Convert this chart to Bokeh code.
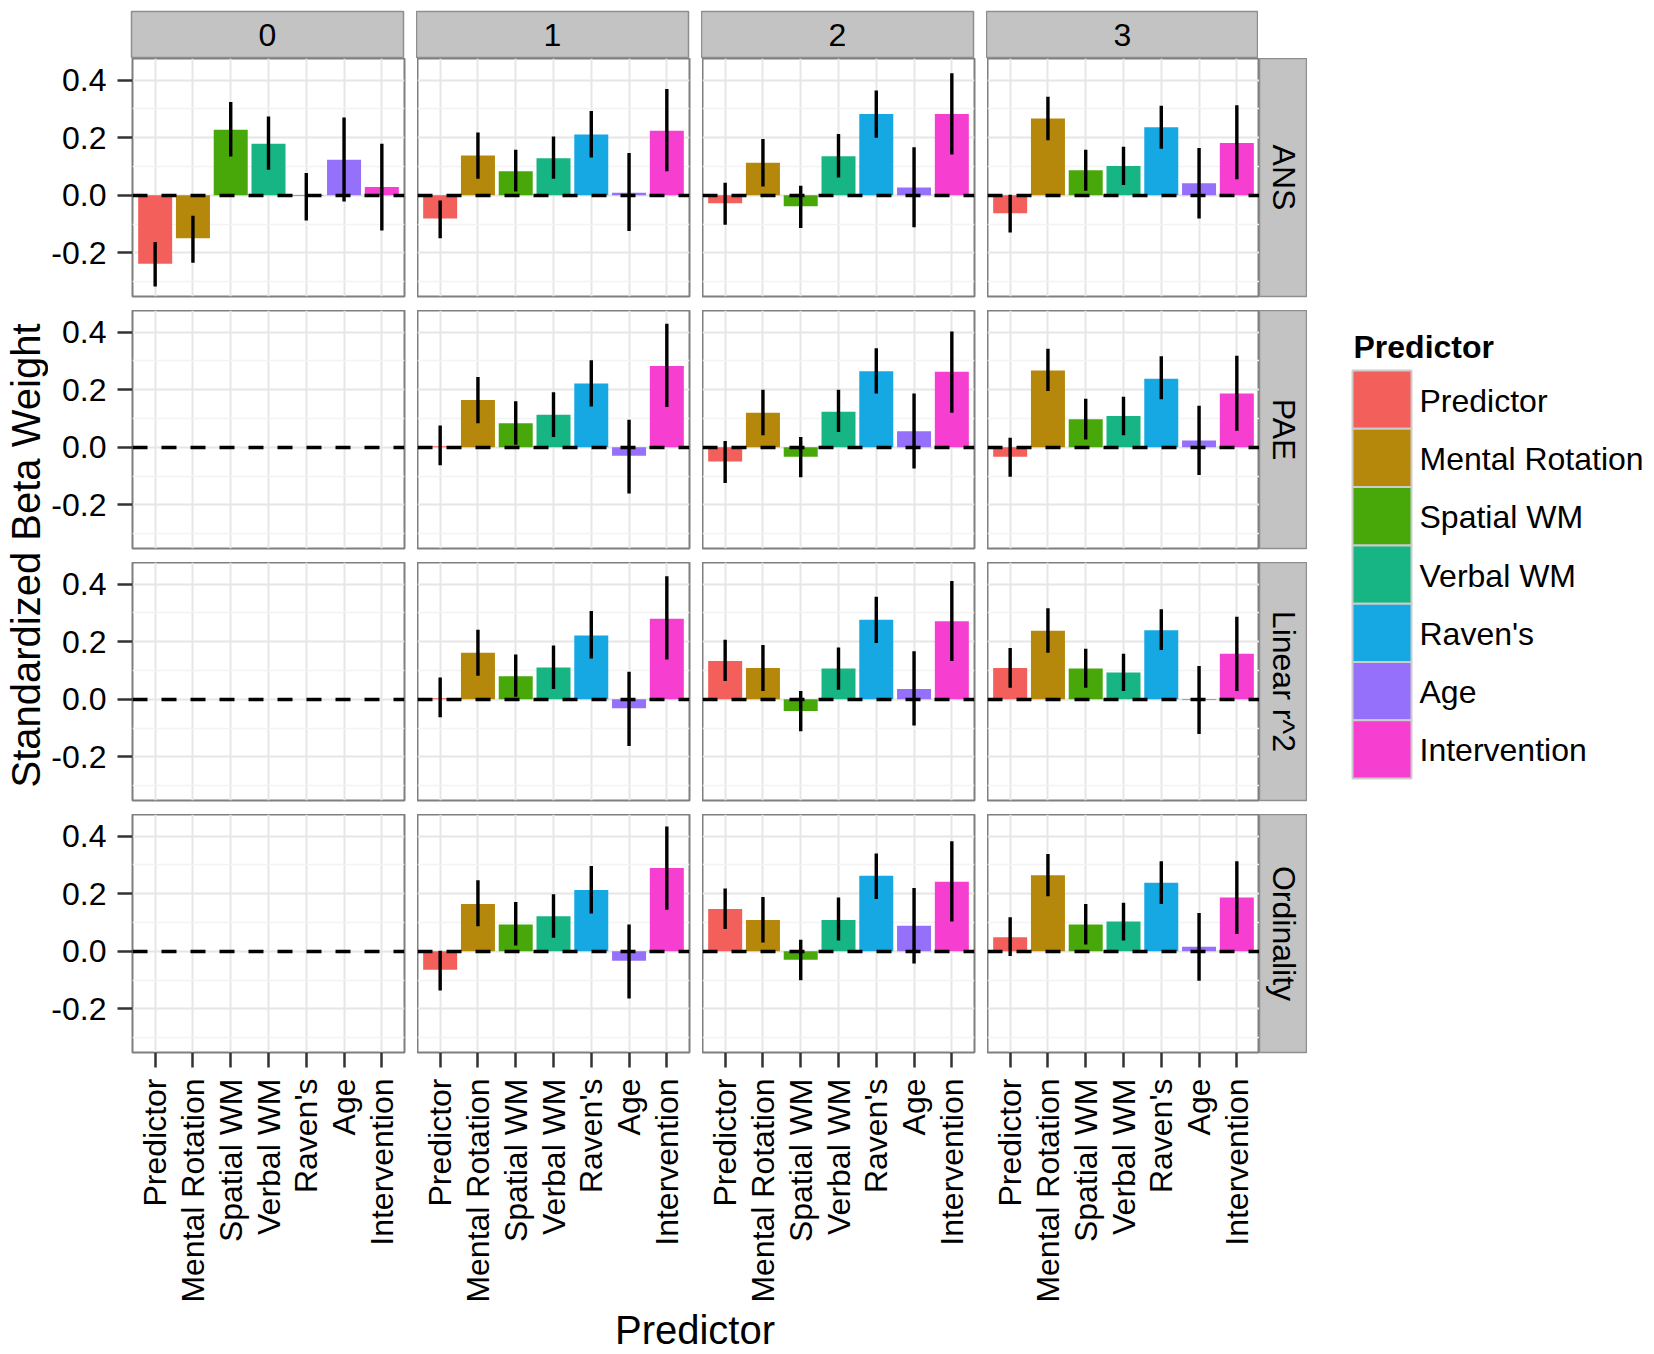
import math
from bokeh.plotting import figure
from bokeh.models import (FactorRange, Range1d, FixedTicker, PrintfTickFormatter,
                          Label, ColumnDataSource)
from bokeh.layouts import row, column
from bokeh.embed import file_html
from bokeh.resources import INLINE

FONT = "Liberation Sans"

# ---------------- data ----------------
predictors = ["Predictor", "Mental Rotation", "Spatial WM", "Verbal WM",
              "Raven's", "Age", "Intervention"]
colors = ["#F35F5A", "#B5870A", "#48A80A", "#17B584", "#16A8E2", "#9570FA", "#F63FD0"]
facet_cols = ["0", "1", "2", "3"]
facet_rows = ["ANS", "PAE", "Linear r^2", "Ordinality"]

# each list: one entry per facet column (0..3), each entry one value per predictor
ans_est = [[-0.237, -0.149, 0.228, 0.179, -0.002, 0.124, 0.029],
           [-0.080, 0.138, 0.084, 0.129, 0.211, 0.009, 0.224],
           [-0.027, 0.113, -0.038, 0.136, 0.282, 0.027, 0.282],
           [-0.062, 0.267, 0.087, 0.102, 0.236, 0.042, 0.182]]
ans_lo = [[-0.316, -0.234, 0.135, 0.089, -0.087, -0.021, -0.122],
          [-0.149, 0.058, 0.013, 0.058, 0.131, -0.124, 0.084],
          [-0.102, 0.031, -0.113, 0.062, 0.200, -0.111, 0.142],
          [-0.129, 0.191, 0.016, 0.036, 0.162, -0.080, 0.056]]
ans_hi = [[-0.162, -0.071, 0.324, 0.274, 0.078, 0.270, 0.179],
          [-0.018, 0.218, 0.158, 0.204, 0.293, 0.147, 0.369],
          [0.044, 0.196, 0.033, 0.213, 0.364, 0.167, 0.424],
          [0.002, 0.342, 0.158, 0.169, 0.311, 0.164, 0.313]]

pae_est = [None,
           [0.004, 0.164, 0.084, 0.113, 0.222, -0.029, 0.282],
           [-0.049, 0.120, -0.033, 0.124, 0.264, 0.056, 0.262],
           [-0.033, 0.267, 0.098, 0.109, 0.238, 0.024, 0.187]]
pae_lo = [None,
          [-0.062, 0.084, 0.009, 0.036, 0.142, -0.160, 0.140],
          [-0.124, 0.042, -0.104, 0.053, 0.187, -0.073, 0.120],
          [-0.102, 0.196, 0.027, 0.042, 0.167, -0.096, 0.058]]
pae_hi = [None,
          [0.076, 0.244, 0.160, 0.191, 0.302, 0.096, 0.429],
          [0.022, 0.200, 0.036, 0.200, 0.344, 0.187, 0.402],
          [0.033, 0.342, 0.169, 0.176, 0.316, 0.144, 0.318]]

lin_est = [None,
           [0.004, 0.162, 0.080, 0.111, 0.222, -0.031, 0.280],
           [0.133, 0.109, -0.040, 0.107, 0.276, 0.036, 0.271],
           [0.109, 0.238, 0.107, 0.093, 0.240, -0.002, 0.158]]
lin_lo = [None,
          [-0.062, 0.082, 0.009, 0.036, 0.142, -0.162, 0.138],
          [0.064, 0.029, -0.111, 0.033, 0.196, -0.091, 0.133],
          [0.040, 0.162, 0.040, 0.029, 0.171, -0.120, 0.029]]
lin_hi = [None,
          [0.076, 0.242, 0.156, 0.187, 0.307, 0.096, 0.427],
          [0.207, 0.189, 0.029, 0.180, 0.356, 0.167, 0.411],
          [0.178, 0.316, 0.176, 0.158, 0.313, 0.116, 0.287]]

ord_est = [None,
           [-0.064, 0.164, 0.093, 0.122, 0.213, -0.033, 0.289],
           [0.147, 0.109, -0.029, 0.109, 0.262, 0.089, 0.242],
           [0.049, 0.264, 0.093, 0.104, 0.238, 0.016, 0.187]]
ord_lo = [None,
          [-0.136, 0.087, 0.020, 0.047, 0.131, -0.164, 0.144],
          [0.078, 0.031, -0.100, 0.038, 0.182, -0.042, 0.104],
          [-0.016, 0.191, 0.024, 0.038, 0.164, -0.102, 0.060]]
ord_hi = [None,
          [0.002, 0.247, 0.171, 0.198, 0.296, 0.093, 0.433],
          [0.218, 0.189, 0.040, 0.187, 0.340, 0.220, 0.382],
          [0.118, 0.338, 0.164, 0.169, 0.313, 0.133, 0.313]]

y_ticks = [-0.2, 0.0, 0.2, 0.4]
y_minor = [-0.3, -0.1, 0.1, 0.3]

EST = [ans_est, pae_est, lin_est, ord_est]
LO = [ans_lo, pae_lo, lin_lo, ord_lo]
HI = [ans_hi, pae_hi, lin_hi, ord_hi]

# ---------------- layout constants ----------------
Y0, Y1 = -0.351, 0.475
FW, FH = 272, 238
GAP_X, GAP_Y = 13, 14
LEFT = 83
STRIP_TOP = 11
STRIP = 47
STRIP_R = 48
BOTTOM = 252
YT_W = 48
TOTAL_H = 1350
MAIN_W = LEFT + 4 * FW + 3 * GAP_X + STRIP_R
XT_H = TOTAL_H - (STRIP_TOP + STRIP) - 4 * FH - 3 * GAP_Y - BOTTOM

STRIP_FILL = "#C3C3C3"
STRIP_LINE = "#8E8E8E"
BORDER = "#7F7F7F"
GRID_MAJ = "#E6E6E6"
GRID_MIN = "#F3F3F3"
TICK = "#333333"
SMALL = "32px"
BIG = "40px"


def base_fig(fw, fh, ml=0, mr=0, mt=0, mb=0, **kw):
    p = figure(frame_width=fw, frame_height=fh, min_border_left=ml, min_border_right=mr,
               min_border_top=mt, min_border_bottom=mb, toolbar_location=None,
               output_backend="svg", tools="", **kw)
    p.background_fill_color = "white"
    p.border_fill_color = "white"
    return p


def blank_fig(fw, fh, xr, yr, ml=0, mr=0, mt=0, mb=0):
    p = base_fig(fw, fh, ml=ml, mr=mr, mt=mt, mb=mb,
                 x_range=Range1d(*xr), y_range=Range1d(*yr),
                 x_axis_location=None, y_axis_location=None)
    p.grid.visible = False
    p.outline_line_color = None
    return p


def panel(r, c):
    p = base_fig(FW, FH,
                 ml=LEFT if c == 0 else 0,
                 mr=GAP_X if c < 3 else 0,
                 mt=0,
                 mb=GAP_Y if r < 3 else BOTTOM,
                 x_range=FactorRange(factors=predictors, range_padding=0.2 / 7),
                 y_range=Range1d(Y0, Y1),
                 x_axis_location="below" if r == 3 else None,
                 y_axis_location="left" if c == 0 else None)
    p.outline_line_color = BORDER
    p.outline_line_width = 2
    p.xgrid.grid_line_color = GRID_MAJ
    p.xgrid.grid_line_width = 2
    p.ygrid.ticker = FixedTicker(ticks=y_ticks, minor_ticks=y_minor)
    p.ygrid.grid_line_color = GRID_MAJ
    p.ygrid.grid_line_width = 2
    p.ygrid.minor_grid_line_color = GRID_MIN
    p.ygrid.minor_grid_line_width = 1.5

    if c == 0:
        ax = p.yaxis[0]
        ax.ticker = FixedTicker(ticks=y_ticks)
        ax.formatter = PrintfTickFormatter(format="%.1f")
    if r == 3:
        ax = p.xaxis[0]
        ax.major_label_orientation = math.pi / 2
    for ax in list(p.xaxis) + list(p.yaxis):
        ax.axis_line_color = None
        ax.minor_tick_line_color = None
        ax.major_tick_in = 0
        ax.major_tick_out = 15
        ax.major_tick_line_color = TICK
        ax.major_tick_line_width = 2.5
        ax.major_label_standoff = 11
        ax.major_label_text_font = FONT
        ax.major_label_text_font_size = SMALL
        ax.major_label_text_color = "black"

    est = EST[r][c]
    if est is not None:
        src = ColumnDataSource(dict(x=predictors, top=est, lo=LO[r][c], hi=HI[r][c],
                                    color=colors))
        p.vbar(x="x", top="top", bottom=0, width=0.9, fill_color="color",
               line_color=None, source=src)
        p.hspan(y=[0], line_color="black", line_width=3.5, line_dash="15 14")
        p.segment(x0="x", y0="lo", x1="x", y1="hi", line_color="black",
                  line_width=3.4, source=src)
    else:
        p.hspan(y=[0], line_color="black", line_width=3.5, line_dash="15 14")
    return p


def top_strip(c):
    p = blank_fig(FW, STRIP, (0, 1), (0, 1),
                  ml=LEFT if c == 0 else 0, mr=GAP_X if c < 3 else 0, mt=STRIP_TOP, mb=0)
    p.background_fill_color = STRIP_FILL
    p.outline_line_color = STRIP_LINE
    p.outline_line_width = 1.5
    p.add_layout(Label(x=0.5, y=0.5, text=facet_cols[c], text_align="center",
                       text_baseline="middle", text_font=FONT, text_font_size=SMALL,
                       text_color="black"))
    return p


def right_strip(r):
    p = blank_fig(STRIP_R, FH, (0, 1), (0, 1),
                  ml=0, mr=0, mt=0, mb=GAP_Y if r < 3 else BOTTOM)
    p.background_fill_color = STRIP_FILL
    p.outline_line_color = STRIP_LINE
    p.outline_line_width = 1.5
    p.add_layout(Label(x=0.5, y=0.5, text=facet_rows[r], angle=-math.pi / 2,
                       text_align="center", text_baseline="middle", text_font=FONT,
                       text_font_size=SMALL, text_color="black"))
    return p


# ---------------- assemble ----------------
strip_row = row([top_strip(c) for c in range(4)], spacing=0)
panel_rows = []
for r in range(4):
    panel_rows.append(row([panel(r, c) for c in range(4)] + [right_strip(r)], spacing=0))

# x axis title (centred under the four panels)
xt = blank_fig(MAIN_W, XT_H, (0, MAIN_W), (XT_H, 0))
xt.add_layout(Label(x=LEFT + (4 * FW + 3 * GAP_X) / 2, y=XT_H / 2 + 1, text="Predictor",
                    text_align="center", text_baseline="middle", text_font=FONT,
                    text_font_size=BIG, text_color="black"))

main = column([strip_row] + panel_rows + [xt], spacing=0)

# y axis title
panels_top = STRIP_TOP + STRIP
panels_bottom = panels_top + 4 * FH + 3 * GAP_Y
yt = blank_fig(YT_W, TOTAL_H, (0, YT_W), (TOTAL_H, 0))
yt.add_layout(Label(x=25, y=(panels_top + panels_bottom) / 2, text="Standardized Beta Weight",
                    angle=math.pi / 2, text_align="center", text_baseline="middle",
                    text_font=FONT, text_font_size=BIG, text_color="black"))

# legend
LG_W, LG_H = 348, 800
KEY_L, KEY_W, KEY_TOP, KEY_H = 45, 59, 370, 58.3
lg = blank_fig(LG_W, LG_H, (0, LG_W), (LG_H, 0))
tops = [KEY_TOP + i * KEY_H for i in range(len(predictors))]
lg.quad(left=KEY_L, right=KEY_L + KEY_W, top=tops, bottom=[t + KEY_H for t in tops],
        fill_color=colors, line_color="#CCCCCC", line_width=2)
lg.add_layout(Label(x=KEY_L + 1, y=KEY_TOP - 24, text="Predictor", text_align="left",
                    text_baseline="middle", text_font=FONT, text_font_size=SMALL,
                    text_font_style="bold", text_color="black"))
for i, name in enumerate(predictors):
    lg.add_layout(Label(x=KEY_L + KEY_W + 8, y=tops[i] + KEY_H / 2 + 1, text=name,
                        text_align="left", text_baseline="middle", text_font=FONT,
                        text_font_size=SMALL, text_color="black"))

layout = row([yt, main, lg], spacing=0)

open("out.html", "w").write(file_html(layout, INLINE))
